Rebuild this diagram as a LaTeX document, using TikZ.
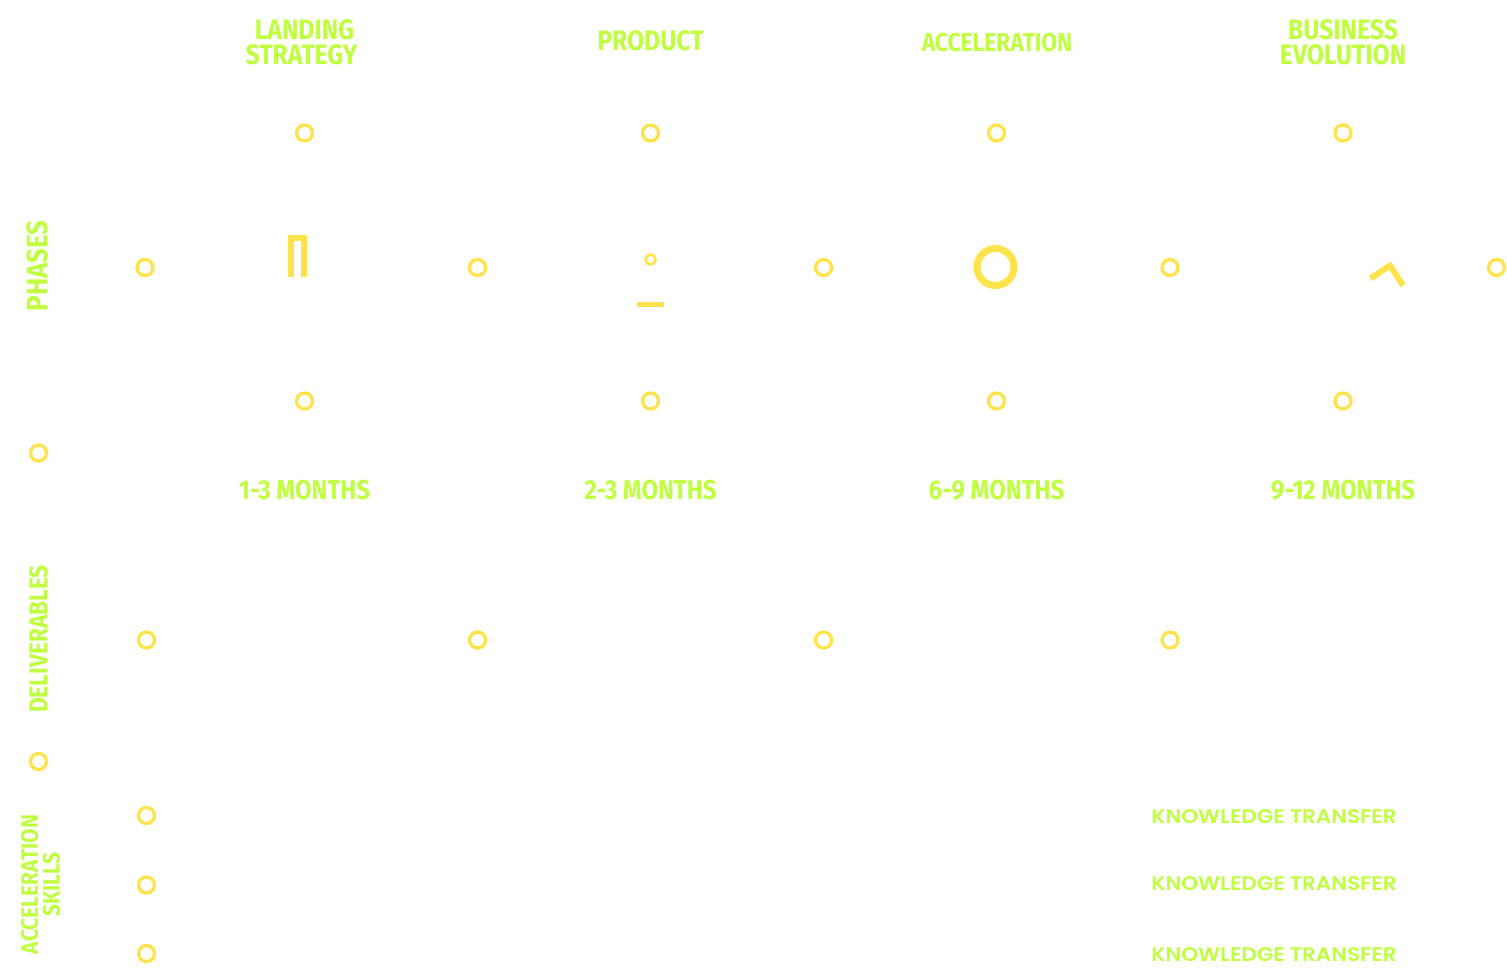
\documentclass[tikz,border=0pt]{standalone}
\usepackage{fontspec}
\newfontfamily\headfont[FakeStretch=0.88]{Fira Sans}
\newfontfamily\skillfont[FakeStretch=1.09,UprightFont=* SemiBold]{Poppins}
\definecolor{ringyellow}{HTML}{FFE34D}
\definecolor{limegreen}{HTML}{BFFF40}
\tikzset{
  ring/.style={draw=ringyellow,line width=1.9pt,circle,minimum size=0.32cm,inner sep=0pt},
  mark line/.style={draw=ringyellow,line width=3.4pt,miter limit=10},
  head/.style={text=limegreen,font=\headfont\bfseries\fontsize{16}{14.2}\selectfont,align=center,inner sep=0pt},
  large head/.style={head,font=\headfont\bfseries\fontsize{16.7}{15}\selectfont},
  time head/.style={head,font=\headfont\bfseries\fontsize{15.5}{14}\selectfont},
  medium head/.style={head,font=\headfont\bfseries\fontsize{14.7}{13}\selectfont},
  small head/.style={head,font=\headfont\bfseries\fontsize{13.6}{12.4}\selectfont},
  skill/.style={text=limegreen,font=\skillfont\fontsize{11.2}{13}\selectfont,anchor=west,inner sep=0pt}
}
\begin{document}
\begin{tikzpicture}[x=0.02cm,y=-0.02cm]
            \useasboundingbox (0,0) rectangle (1507,977);
            % column titles
            \node[head] (landing) at (304.5,42.5) {LANDING\\STRATEGY\kern3.4pt};
            \node[head] (product) at (650.5,41) {PRODUCT};
            \node[medium head] (accel) at (997,43) {ACCELERATION};
            \node[head] (business) at (1343,42.5) {BUSINESS\\EVOLUTION};
            % row titles
            \node[large head,rotate=90] (phases) at (37.5,266) {PHASES};
            \node[medium head,rotate=90] (deliver) at (38.5,639) {DELIVERABLES};
            \node[small head,rotate=90] (skills) at (40.5,884.5) {ACCELERATION\\SKILLS};
            % durations
            \node[time head] (timea) at (304.5,490) {1-3 MONTHS};
            \node[time head] (timeb) at (650.5,490) {2-3 MONTHS};
            \node[time head] (timec) at (996.5,490) {6-9 MONTHS};
            \node[time head] (timed) at (1343,490) {9-12 MONTHS};
            % rings above the phases
            \node[ring] (upa) at (304.5,133) {};
            \node[ring] (upb) at (650.5,133) {};
            \node[ring] (upc) at (996.5,133) {};
            \node[ring] (upd) at (1343,133) {};
            % rings beside the phases
            \node[ring] (mida) at (145,267.5) {};
            \node[ring] (midb) at (477.5,267.5) {};
            \node[ring] (midc) at (823.5,267.5) {};
            \node[ring] (midd) at (1170,267.5) {};
            \node[ring] (mide) at (1496.5,267.5) {};
            % rings below the phases
            \node[ring] (lowa) at (304.5,401) {};
            \node[ring] (lowb) at (650.5,401) {};
            \node[ring] (lowc) at (996.5,401) {};
            \node[ring] (lowd) at (1343,401) {};
            % left margin
            \node[ring] (sidea) at (38.5,453) {};
            \node[ring] (sideb) at (38.5,761.5) {};
            % deliverables row
            \node[ring] (dela) at (146.5,640) {};
            \node[ring] (delb) at (477.5,640) {};
            \node[ring] (delc) at (823.5,640) {};
            \node[ring] (deld) at (1170,640) {};
            % skills rows
            \node[ring] (skilla) at (146.5,815.5) {};
            \node[ring] (skillb) at (146.5,885) {};
            \node[ring] (skillc) at (146.5,953.5) {};
            \node[skill] (transa) at (1151,816.5) {KNOWLEDGE TRANSFER};
            \node[skill] (transb) at (1151,883.5) {KNOWLEDGE TRANSFER};
            \node[skill] (transc) at (1151,954.5) {KNOWLEDGE TRANSFER};
            % phase marks
            \draw[mark line] (291,277)--(291,238)--(304,238)--(304,277);
            \node[draw=ringyellow,line width=1.5pt,circle,minimum size=0.2cm,inner sep=0pt] (dot) at (650.5,259.5) {};
            \draw[mark line] (637,304.5)--(664,304.5);
            \node[draw=ringyellow,line width=4pt,circle,minimum size=0.74cm,inner sep=0pt] (bigring) at (995.5,267) {};
            \draw[mark line] (1370.5,278.5)--(1390,265.5)--(1403,285.5);
        \end{tikzpicture}
\end{document}
